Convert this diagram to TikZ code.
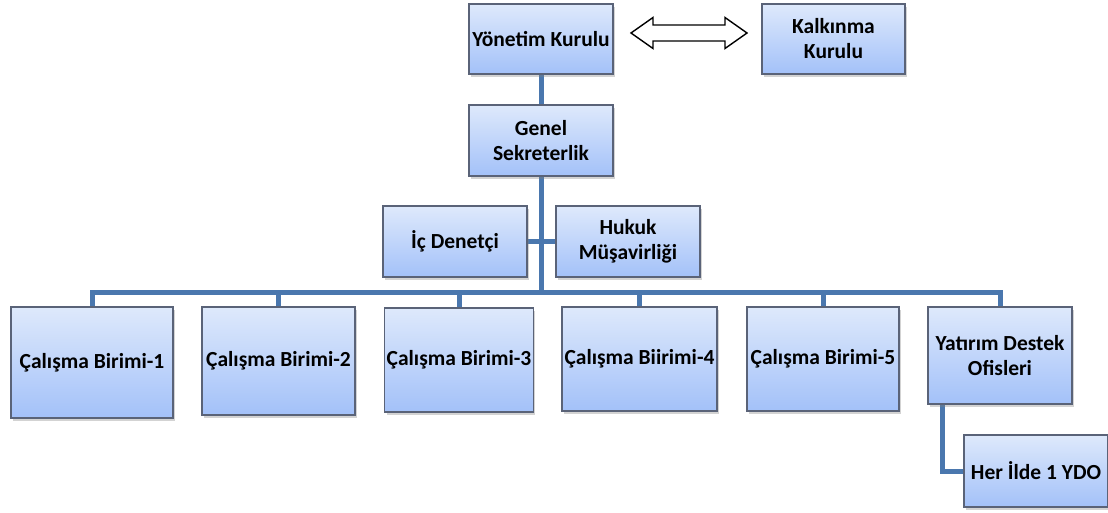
\documentclass[tikz,border=0pt]{standalone}
\usepackage{fontspec}
\setmainfont{Carlito}
\usepackage{xcolor}
\usepackage{tikz}
\usetikzlibrary{positioning, calc, shadows, backgrounds}

\definecolor{boxtop}{HTML}{DEE9FB}
\definecolor{boxbottom}{HTML}{A3C1F9}
\definecolor{boxline}{HTML}{5A6378}
\definecolor{linkblue}{HTML}{4A77AE}

\begin{document}
\begin{tikzpicture}[
    x=1pt, y=-1pt,
    box/.style={rectangle, draw=boxline, line width=1.2pt, top color=boxtop, bottom color=boxbottom, align=center,
        font=\fontsize{21.5}{25}\selectfont\bfseries, inner sep=2pt,
        drop shadow={shadow xshift=2pt, shadow yshift=-3pt, opacity=0.35}},
    link/.style={line width=5pt, color=linkblue},
    twoway/.style={draw=black, line width=1.4pt, fill=white, line join=miter}
]
\useasboundingbox (0,0) rectangle (1108,513);

% ===== TOP: BOARD =====
\node[box, minimum width=144pt, minimum height=70pt] (yk) at (541, 39) {Yönetim Kurulu};
\node[box, minimum width=143pt, minimum height=70pt] (kk) at (833.5, 39) {Kalkınma\\Kurulu};

% ===== GENERAL SECRETARY =====
\node[box, minimum width=144pt, minimum height=71pt] (gs) at (541, 140.5) {Genel\\Sekreterlik};

% Staff units
\node[box, minimum width=144pt, minimum height=71pt] (icd) at (455, 241.5) {İç Denetçi};
\node[box, minimum width=144pt, minimum height=71pt] (hm) at (628, 241.5) {Hukuk\\Müşavirliği};

% ===== WORKING UNITS =====
\node[box, minimum width=162pt, minimum height=111pt] (cb1) at (92, 362.5) {Çalışma Birimi-1};
\node[box, minimum width=153pt, minimum height=108pt] (cb2) at (278.5, 361) {Çalışma Birimi-2};
\node[box, minimum width=148pt, minimum height=104pt] (cb3) at (459, 360) {Çalışma Birimi-3};
\node[box, minimum width=155pt, minimum height=104pt] (cb4) at (639.5, 359) {Çalışma Biirimi-4};
\node[box, minimum width=152pt, minimum height=104pt] (cb5) at (823, 359) {Çalışma Birimi-5};
\node[box, minimum width=144pt, minimum height=97pt] (ydo) at (1000, 355.5) {Yatırım Destek\\Ofisleri};
\node[box, minimum width=144pt, minimum height=72pt] (her) at (1036, 471) {Her İlde 1 YDO};

% ===== CONNECTORS =====
\coordinate (bus) at (541, 292);
\begin{scope}[on background layer]
\draw[link] (yk.south) -- (gs.north);
\draw[link] (gs.south) -- (bus);
\draw[link] (icd.east) -- (hm.west);
\draw[link, line cap=rect] (cb1.north |- bus) -- (ydo.north |- bus);
\foreach \u in {cb1, cb2, cb3, cb4, cb5, ydo}
    \draw[link] (\u.north) -- (\u.north |- bus);
\draw[link] ([xshift=15pt]ydo.south west) |- (her.west);
\end{scope}

% ===== TWO-WAY ARROW: Yönetim <-> Kalkınma =====
\coordinate (al) at (631, 33);
\coordinate (ar) at (747, 33);
\draw[twoway] (al) -- ++(22, -15.5) -- ++(0, 7.5) -- ($(ar) + (-22, -8)$) -- ++(0, -7.5)
    -- (ar) -- ++(-22, 15.5) -- ++(0, -7.5) -- ($(al) + (22, 8)$) -- ++(0, 7.5) -- cycle;

\end{tikzpicture}
\end{document}
